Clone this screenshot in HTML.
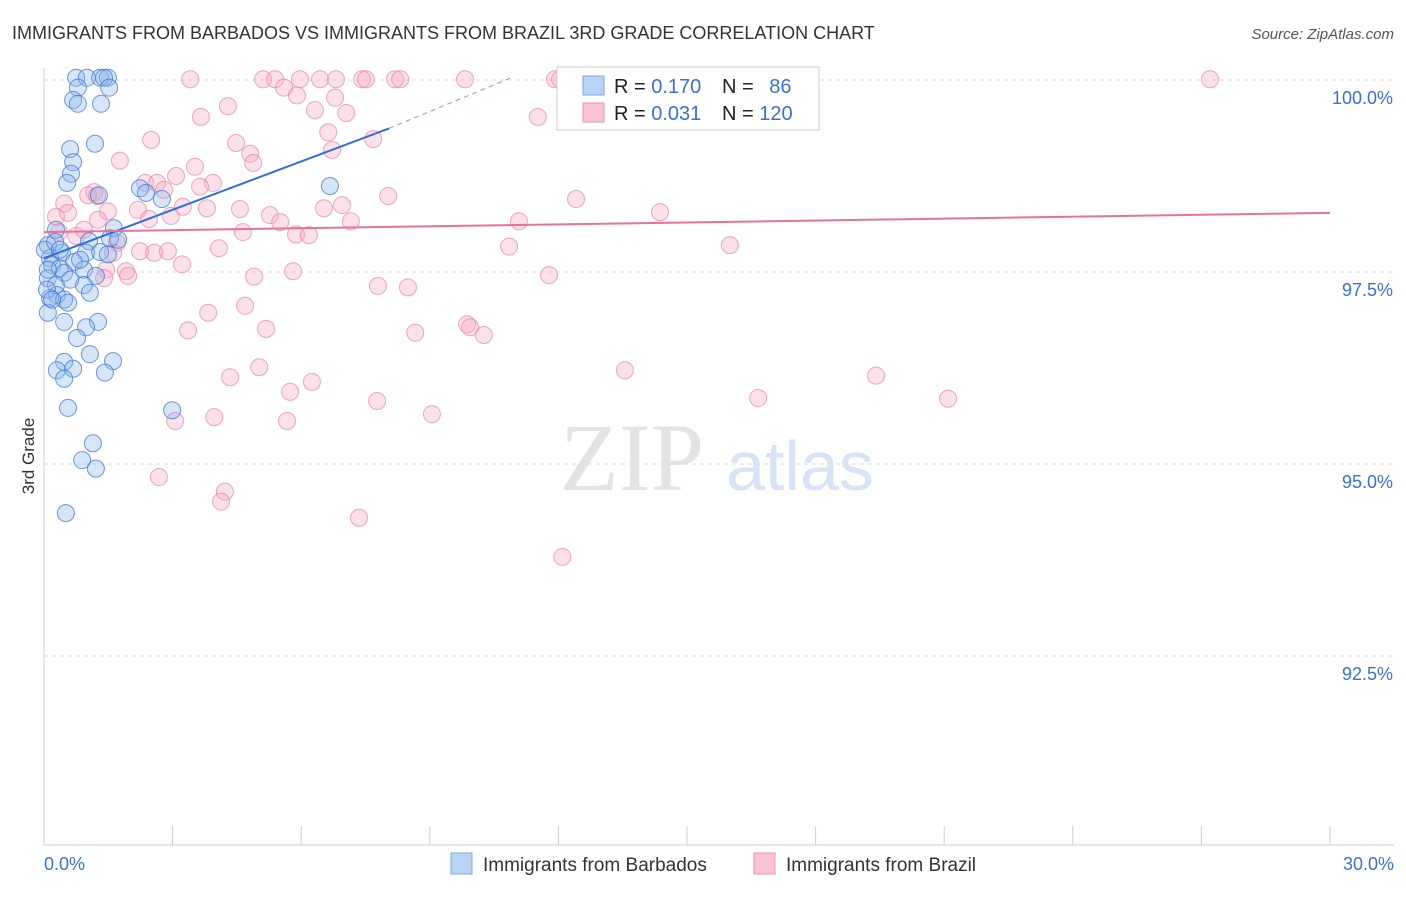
<!DOCTYPE html>
<html><head><meta charset="utf-8"><style>
body{margin:0;background:#fff;font-family:"Liberation Sans",sans-serif}
</style></head><body>
<svg id="c" width="1406" height="892" viewBox="0 0 1406 892" xmlns="http://www.w3.org/2000/svg" font-family="Liberation Sans, sans-serif">
<text x="12" y="39" font-size="18" fill="#333">IMMIGRANTS FROM BARBADOS VS IMMIGRANTS FROM BRAZIL 3RD GRADE CORRELATION CHART</text>
<text x="1394" y="39" font-size="15" fill="#555" text-anchor="end" font-style="italic">Source: ZipAtlas.com</text>
<text x="34" y="456" font-size="17" fill="#333" text-anchor="middle" transform="rotate(-90 34 456)">3rd Grade</text>
<text x="632" y="490" font-size="96" fill="#e3e3e3" font-family="Liberation Serif, serif" text-anchor="middle">ZIP</text>
<text x="800" y="490" font-size="70" fill="#d6e4f5" text-anchor="middle">atlas</text>
<g id="grid"></g><g id="marks"></g>
<g>
<rect x="557" y="67" width="262" height="63" fill="#fff" stroke="#ccc"/>
<rect x="583" y="76" width="21" height="19" fill="#b8d3f5" stroke="#7aa7e3"/>
<rect x="583" y="103" width="21" height="19" fill="#f9c3d3" stroke="#ee92b0"/>
<text x="614" y="93" font-size="20" fill="#222">R = <tspan fill="#3a70d0">0.170</tspan></text>
<text x="722" y="93" font-size="20" fill="#222">N = <tspan fill="#3a70d0" dx="10">86</tspan></text>
<text x="614" y="120" font-size="20" fill="#222">R = <tspan fill="#3a70d0">0.031</tspan></text>
<text x="722" y="120" font-size="20" fill="#222">N = <tspan fill="#3a70d0">120</tspan></text>
</g>
<g>
<rect x="451" y="853" width="21" height="21" fill="#b8d3f5" stroke="#7aa7e3"/>
<text x="483" y="871" font-size="19" fill="#333">Immigrants from Barbados</text>
<rect x="754" y="853" width="21" height="21" fill="#f9c3d3" stroke="#ee92b0"/>
<text x="786" y="871" font-size="19" fill="#333">Immigrants from Brazil</text>
</g>
</svg>
<script>
const yTicks=[100,97.5,95,92.5];
const yTickLabels=["100.0%","97.5%","95.0%","92.5%"];
const xTickLabels=["0.0%","30.0%"];
const blueX=[0.75,1.00,1.31,1.49,1.40,0.79,1.52,0.68,0.79,1.33,1.19,0.61,0.68,0.63,0.54,1.28,2.24,2.38,2.75,6.67,0.28,1.63,1.54,1.73,1.05,0.09,0.98,1.31,0.42,0.14,1.49,0.70,0.19,0.37,0.93,1.21,0.47,0.09,0.28,0.93,0.30,0.14,0.47,1.07,0.56,0.09,0.47,1.26,0.98,0.77,1.07,1.61,0.47,0.30,0.68,1.42,0.47,0.56,2.99,1.14,0.89,1.21,0.51,0.07,0.19,0.02,0.26,0.37,0.09,0.61,0.84];
const blueY=[100.03,100.03,100.03,100.03,100.03,99.90,99.90,99.74,99.69,99.69,99.17,99.10,98.93,98.78,98.66,98.50,98.59,98.53,98.45,98.62,98.05,98.07,97.94,97.92,97.90,97.85,97.75,97.76,97.75,97.68,97.73,97.63,97.59,97.55,97.53,97.45,97.49,97.42,97.33,97.33,97.20,97.16,97.14,97.23,97.10,96.97,96.85,96.85,96.78,96.64,96.43,96.34,96.33,96.22,96.24,96.19,96.11,95.73,95.70,95.27,95.05,94.94,94.36,97.27,97.14,97.79,97.89,97.79,97.53,97.40,97.66];
const pinkX=[3.41,5.11,5.39,6.44,6.81,7.42,7.51,8.19,8.31,9.82,11.92,12.04,14.49,16.24,27.20,5.97,5.60,5.90,6.79,4.29,6.32,7.05,3.66,11.52,6.63,2.50,4.48,7.68,4.81,6.72,4.88,1.77,3.52,3.08,3.94,3.64,2.36,2.64,2.80,1.17,1.03,1.24,8.03,12.41,0.47,3.24,3.80,4.57,6.53,6.95,1.49,2.19,2.45,2.96,5.27,5.51,7.16,11.08,14.37,0.28,0.56,1.26,0.35,0.75,0.93,4.64,5.88,6.18,1.70,2.24,2.57,2.89,4.08,10.85,16.00,1.61,3.22,1.45,1.91,1.40,1.96,5.81,4.90,11.78,7.79,8.49,4.69,3.83,3.36,5.18,8.66,9.87,9.94,10.26,5.02,4.34,6.25,5.74,13.55,19.41,7.77,9.05,16.66,21.09,3.97,3.06,5.67,2.68,4.22,4.13,7.35,12.09];
const pinkY=[100.01,100.01,100.01,100.01,100.01,100.01,100.01,100.01,100.01,100.01,100.01,100.01,100.01,100.01,100.01,100.01,99.90,99.80,99.77,99.66,99.61,99.57,99.52,99.52,99.32,99.22,99.18,99.23,99.04,99.09,98.92,98.95,98.87,98.75,98.66,98.61,98.66,98.66,98.57,98.54,98.50,98.49,98.49,98.45,98.39,98.35,98.33,98.32,98.33,98.37,98.29,98.31,98.19,98.23,98.24,98.15,98.16,98.16,98.28,98.22,98.27,98.18,98.02,97.97,98.05,98.02,97.99,97.98,97.88,97.77,97.75,97.77,97.81,97.83,97.85,97.75,97.60,97.53,97.51,97.42,97.45,97.51,97.44,97.46,97.32,97.30,97.06,96.97,96.74,96.76,96.71,96.82,96.78,96.68,96.26,96.13,96.07,95.94,96.22,96.15,95.82,95.65,95.86,95.85,95.61,95.56,95.56,94.83,94.64,94.51,94.30,93.79];
const blueLine=[0,97.68,8.05,99.37,10.9,100.03];
const pinkLine=[0,98.02,30,98.27];
const NS="http://www.w3.org/2000/svg";
const X=v=>44+v/30*1286, Y=v=>80+(100-v)*76.8;
function mk(t,a,p){const e=document.createElementNS(NS,t);for(const k in a)e.setAttribute(k,a[k]);p.appendChild(e);return e;}
const g=document.getElementById('grid'),m=document.getElementById('marks');
yTicks.forEach((t,i)=>{const l=mk('line',{x1:44,x2:1394,y1:Y(t),y2:Y(t),stroke:'#ddd','stroke-dasharray':'4,4'},g);

const tx=mk('text',{x:1393,y:Y(t)+24,'font-size':18,fill:'#3a70d0','text-anchor':'end'},g);tx.textContent=yTickLabels[i];
});
const ax=mk('line',{x1:44,x2:44,y1:68,y2:845,stroke:'#ccc'},g);
const bx=mk('line',{x1:44,x2:1394,y1:845,y2:845,stroke:'#ccc'},g);
for(let i=0;i<=10;i++){const t=mk('line',{x1:X(i*3),x2:X(i*3),y1:826,y2:845,stroke:'#ccc'},g);}
[[0,'start',44],[30,'end',1394]].forEach((a,i)=>{const t=mk('text',{x:a[2],y:870,'font-size':18,fill:'#3a70d0','text-anchor':a[1]},g);t.textContent=xTickLabels[i];
});
pinkX.forEach((v,i)=>{const c=mk('circle',{cx:X(v),cy:Y(pinkY[i]),r:8.5,fill:'rgba(246,170,196,0.35)',stroke:'rgba(232,130,165,0.7)','stroke-width':1},m);
});
blueX.forEach((v,i)=>{const c=mk('circle',{cx:X(v),cy:Y(blueY[i]),r:8.5,fill:'rgba(140,180,235,0.35)',stroke:'rgba(60,120,210,0.75)','stroke-width':1},m);
});
const b1=mk('line',{x1:X(blueLine[0]),y1:Y(blueLine[1]),x2:X(blueLine[2]),y2:Y(blueLine[3]),stroke:'#2f6fd6','stroke-width':2},m);

const b2=mk('line',{x1:X(blueLine[2]),y1:Y(blueLine[3]),x2:X(blueLine[4]),y2:Y(blueLine[5]),stroke:'#7aa0dd','stroke-width':1,'stroke-dasharray':'5,4'},m);

const p1=mk('line',{x1:X(pinkLine[0]),y1:Y(pinkLine[1]),x2:X(pinkLine[2]),y2:Y(pinkLine[3]),stroke:'#e8709a','stroke-width':2},m);

</script>
</body></html>
